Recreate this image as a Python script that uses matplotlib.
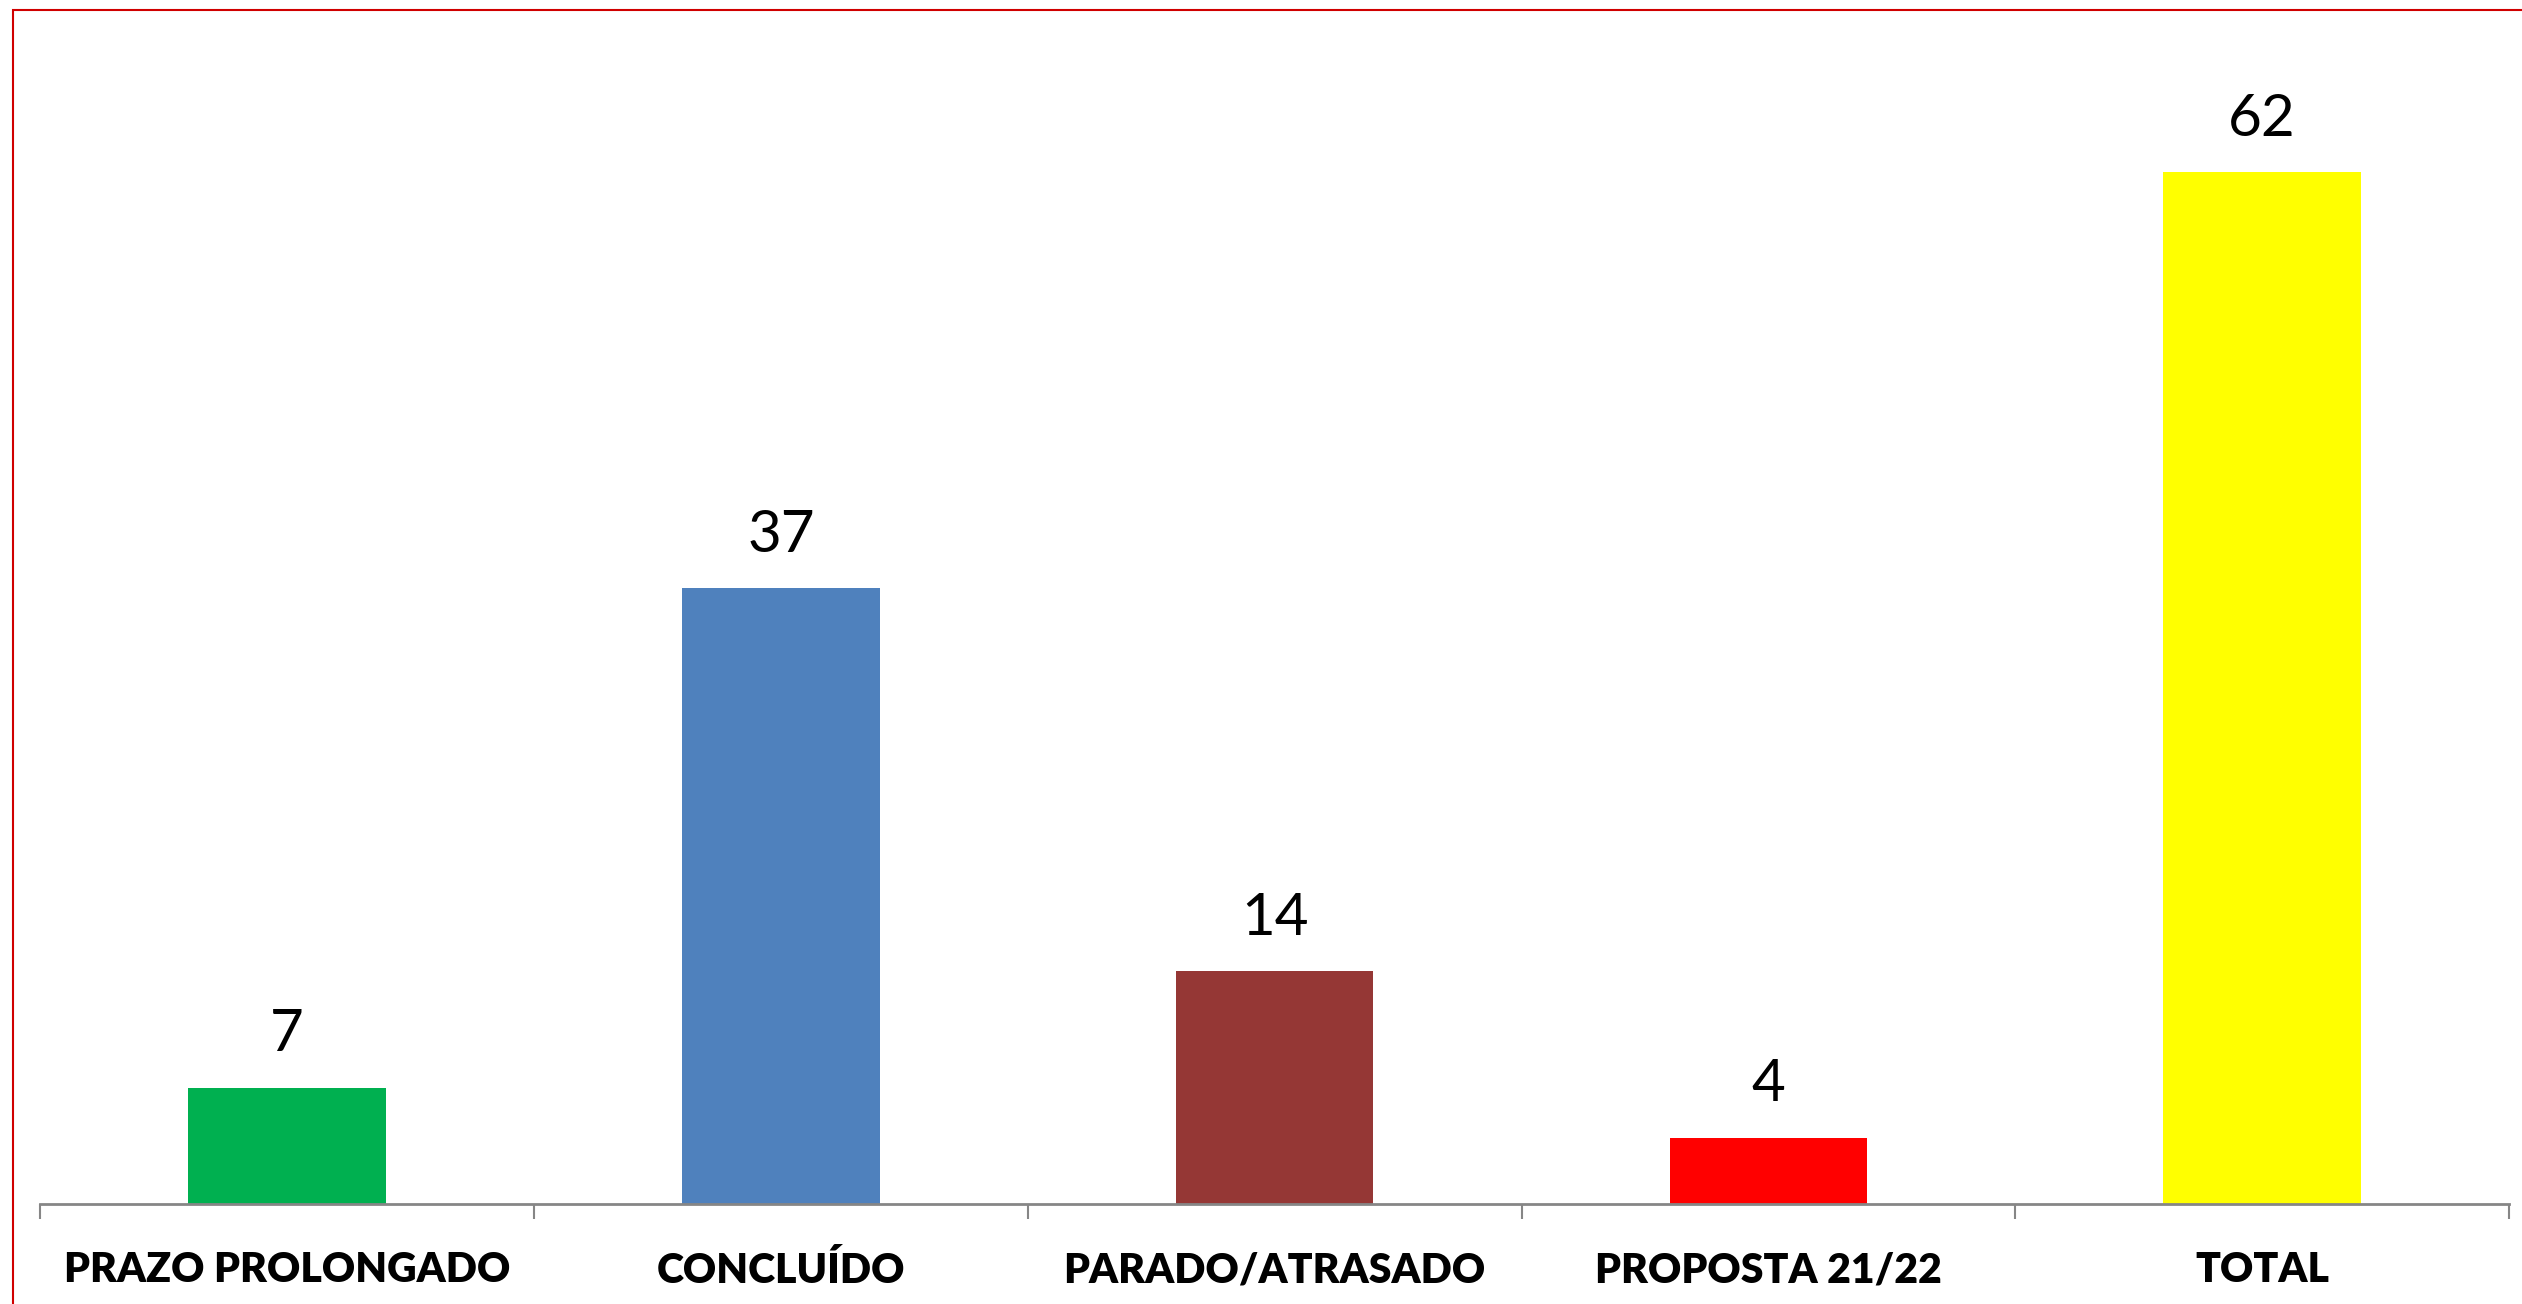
import matplotlib
matplotlib.use("Agg")
import matplotlib.pyplot as plt
from matplotlib.patches import Rectangle
import numpy as np

categories = ["PRAZO PROLONGADO", "CONCLUÍDO", "PARADO/ATRASADO", "PROPOSTA 21/22", "TOTAL"]
values = [7, 37, 14, 4, 62]
colors = ["#00B050", "#4F81BD", "#953735", "#FF0000", "#FFFF00"]

plt.rcParams['font.family'] = ['Lato', 'DejaVu Sans']

fig = plt.figure(figsize=(25.22, 13.04), dpi=100)
ax = fig.add_axes([0.0159, 0.0765, 0.979, 0.8935])

x = np.arange(len(categories))
bars = ax.bar(x, values, 0.4, color=colors)

for b, v in zip(bars, values):
    ax.annotate(str(v), (b.get_x() + b.get_width() / 2, v), xytext=(0, 19),
                textcoords='offset points', ha='center', va='bottom', fontsize=42)

ax.set_xlim(-0.5, len(categories) - 0.5)
ax.set_ylim(0, 70)
ax.set_yticks([])

# ticks between the categories, labels under each bar
ax.set_xticks(np.arange(len(categories) + 1) - 0.5)
ax.set_xticklabels([])
ax.set_xticks(x, minor=True)
ax.set_xticklabels(categories, minor=True, fontsize=29.5, fontweight='heavy')
ax.tick_params(axis='x', which='major', length=11, width=1.5, color='#868686', direction='out')
ax.tick_params(axis='x', which='minor', length=0, pad=34)

for s in ['top', 'right', 'left']:
    ax.spines[s].set_visible(False)
ax.spines['bottom'].set_color('#868686')
ax.spines['bottom'].set_linewidth(2)

# red frame around the chart, cut off at the right and bottom
fig.patches.append(Rectangle((0.005, -0.1), 1.2, 1.0926, transform=fig.transFigure,
                             fill=False, edgecolor='#D00000', linewidth=1.5))

fig.savefig('out.png', dpi=100)
